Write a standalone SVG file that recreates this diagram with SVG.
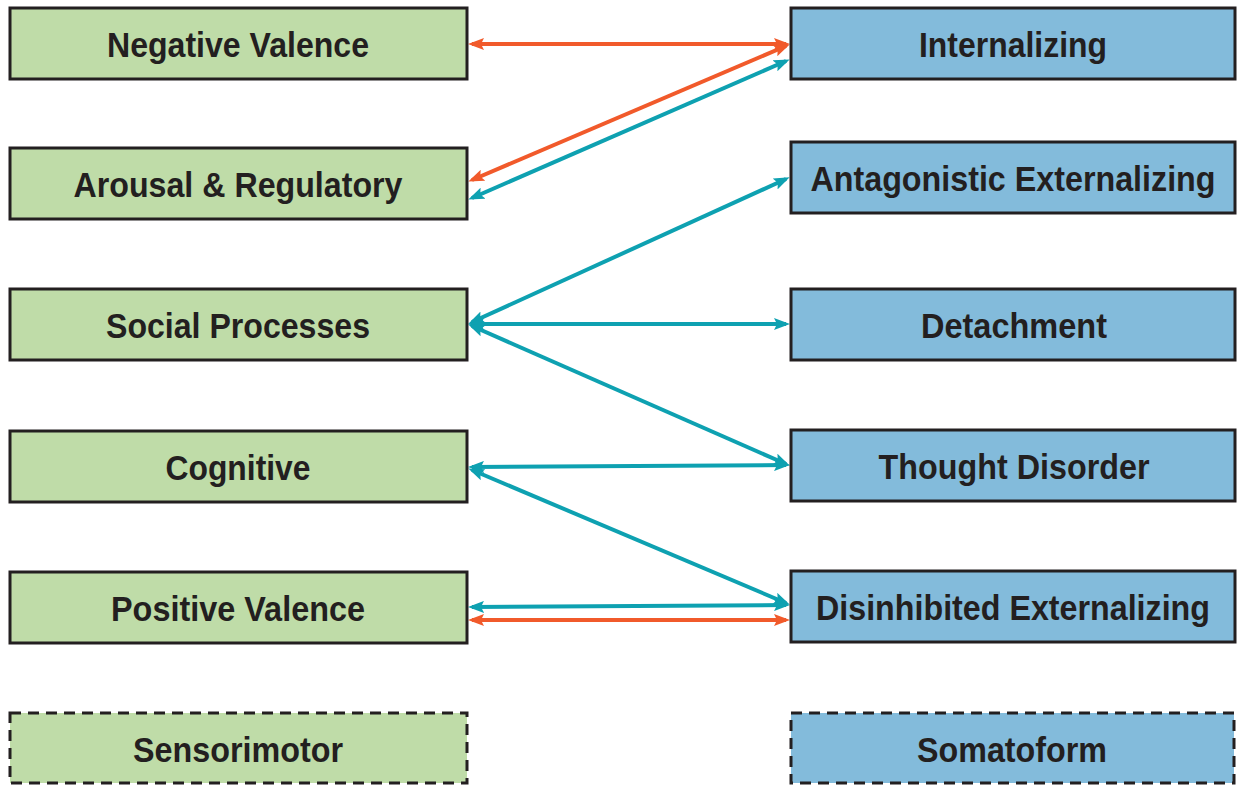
<svg xmlns="http://www.w3.org/2000/svg" width="1241" height="785" viewBox="0 0 1241 785">
<style>
.g{fill:#bfdca8;stroke:#231f20;stroke-width:3}
.b{fill:#83bbdb;stroke:#231f20;stroke-width:3}
.d{stroke-dasharray:11 7}
.t{font-family:"Liberation Sans",Arial,sans-serif;font-weight:bold;font-size:35px;fill:#231f20;text-anchor:middle}
.o{stroke:#f15a2b;stroke-width:4;fill:none;marker-start:url(#ao);marker-end:url(#ao)}
.c{stroke:#0ea1b1;stroke-width:4;fill:none;marker-start:url(#ac);marker-end:url(#ac)}
</style>
<defs>
<marker id="ao" viewBox="0 0 16 12" refX="12" refY="6" markerWidth="16" markerHeight="12" markerUnits="userSpaceOnUse" orient="auto-start-reverse">
<path d="M0,0 L16,6 L0,12 L3,6 Z" fill="#f15a2b"/>
</marker>
<marker id="ac" viewBox="0 0 16 12" refX="12" refY="6" markerWidth="16" markerHeight="12" markerUnits="userSpaceOnUse" orient="auto-start-reverse">
<path d="M0,0 L16,6 L0,12 L3,6 Z" fill="#0ea1b1"/>
</marker>
</defs>
<rect width="1241" height="785" fill="#ffffff"/>
<g id="connectors">
<line class="o" x1="472" y1="44" x2="786" y2="44"/>
<line class="o" x1="472" y1="180" x2="786" y2="46"/>
<line class="c" x1="472" y1="198" x2="786" y2="61"/>
<line class="c" x1="472" y1="322" x2="786" y2="179"/>
<line class="c" x1="472" y1="324" x2="786" y2="324"/>
<line class="c" x1="472" y1="326" x2="786" y2="464"/>
<line class="c" x1="472" y1="467" x2="786" y2="465"/>
<line class="c" x1="472" y1="470" x2="786" y2="603"/>
<line class="c" x1="472" y1="607" x2="786" y2="605"/>
<line class="o" x1="472" y1="620" x2="786" y2="620"/>
</g>
<g id="negative-valence"><rect class="g" x="10" y="8" width="457" height="71"/><text class="t" x="238" y="57" textLength="262" lengthAdjust="spacingAndGlyphs">Negative Valence</text></g>
<g id="arousal-regulatory"><rect class="g" x="10" y="148" width="457" height="71"/><text class="t" x="238" y="197" textLength="329" lengthAdjust="spacingAndGlyphs">Arousal &amp; Regulatory</text></g>
<g id="social-processes"><rect class="g" x="10" y="289" width="457" height="71"/><text class="t" x="238" y="338" textLength="264" lengthAdjust="spacingAndGlyphs">Social Processes</text></g>
<g id="cognitive"><rect class="g" x="10" y="431" width="457" height="71"/><text class="t" x="238" y="480" textLength="145" lengthAdjust="spacingAndGlyphs">Cognitive</text></g>
<g id="positive-valence"><rect class="g" x="10" y="572" width="457" height="71"/><text class="t" x="238" y="621" textLength="254" lengthAdjust="spacingAndGlyphs">Positive Valence</text></g>
<g id="sensorimotor"><rect class="g d" x="10" y="713" width="457" height="70"/><text class="t" x="238" y="762" textLength="210" lengthAdjust="spacingAndGlyphs">Sensorimotor</text></g>
<g id="internalizing"><rect class="b" x="791" y="8" width="444" height="71"/><text class="t" x="1013" y="57" textLength="188" lengthAdjust="spacingAndGlyphs">Internalizing</text></g>
<g id="antagonistic-externalizing"><rect class="b" x="791" y="142" width="444" height="71"/><text class="t" x="1013" y="191" textLength="405" lengthAdjust="spacingAndGlyphs">Antagonistic Externalizing</text></g>
<g id="detachment"><rect class="b" x="791" y="289" width="444" height="71"/><text class="t" x="1014" y="338" textLength="186" lengthAdjust="spacingAndGlyphs">Detachment</text></g>
<g id="thought-disorder"><rect class="b" x="791" y="430" width="444" height="71"/><text class="t" x="1014" y="479" textLength="271" lengthAdjust="spacingAndGlyphs">Thought Disorder</text></g>
<g id="disinhibited-externalizing"><rect class="b" x="791" y="571" width="444" height="71"/><text class="t" x="1013" y="620" textLength="394" lengthAdjust="spacingAndGlyphs">Disinhibited Externalizing</text></g>
<g id="somatoform"><rect class="b d" x="791" y="713" width="443" height="70"/><text class="t" x="1012" y="762" textLength="190" lengthAdjust="spacingAndGlyphs">Somatoform</text></g>
</svg>
